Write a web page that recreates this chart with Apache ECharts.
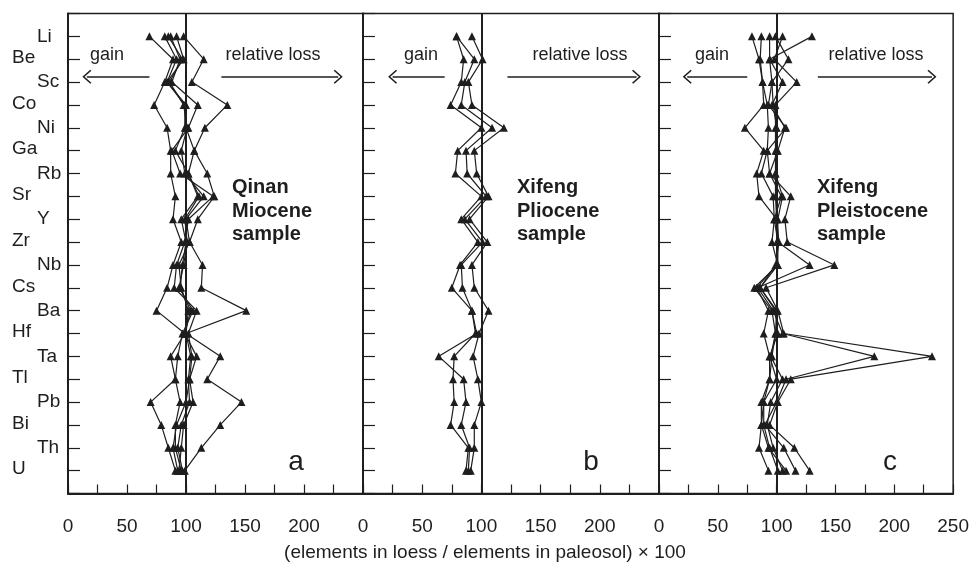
<!DOCTYPE html>
<html>
<head>
<meta charset="utf-8">
<script src="https://cdn.jsdelivr.net/npm/echarts@6/dist/echarts.min.js"></script>
<style>
html,body{margin:0;padding:0;background:#fff;}
#chart{width:972px;height:571px;}
</style>
</head>
<body>
<div id="chart"></div>
<script>
// Element categories (top to bottom)
const elements = ['Li','Be','Sc','Co','Ni','Ga','Rb','Sr','Y','Zr','Nb','Cs','Ba','Hf','Ta','Tl','Pb','Bi','Th','U'];

// X-axis tick values
const xTicks = [0, 50, 100, 150, 200, 250];

// Panel a: Qinan Miocene sample
const qinan1 = [98, 115, 105, 135, 116, 107, 118, 124, 110, 103, 114, 113, 151, 100, 129, 118, 147, 129, 113, 99];
const qinan2 = [69, 89, 82, 73, 84, 87, 87, 91, 89, 96, 89, 84, 75, 99, 87, 91, 70, 79, 85, 91];
const qinan3 = [82, 92, 84, 99, 99, 91, 102, 111, 99, 101, 98, 94, 106, 97, 93, 91, 95, 91, 91, 96];
const qinan4 = [87, 95, 88, 110, 102, 88, 95, 123, 102, 99, 92, 90, 109, 102, 105, 103, 106, 98, 96, 94];
const qinan5 = [92, 98, 84, 100, 100, 107, 102, 110, 96, 100, 97, 95, 104, 99, 109, 103, 100, 92, 89, 93];
const qinan6 = [85, 97, 86, 98, 101, 96, 99, 115, 100, 103, 94, 96, 102, 100, 104, 102, 103, 96, 93, 97];

// Panel b: Xifeng Pliocene sample
const plio1 = [79, 85, 83, 74, 100, 80, 78, 100, 83, 97, 82, 75, 92, 95, 77, 76, 77, 74, 89, 87];
const plio2 = [79, 94, 86, 83, 109, 87, 88, 104, 86, 101, 83, 84, 92, 96, 64, 85, 87, 83, 90, 89];
const plio3 = [92, 101, 89, 92, 119, 94, 96, 106, 90, 105, 92, 94, 106, 98, 93, 97, 100, 94, 94, 91];

// Panel c: Xifeng Pleistocene sample
const pleis1 = [130, 94, 105, 96, 107, 101, 94, 112, 107, 109, 149, 91, 101, 106, 232, 112, 101, 94, 115, 128];
const pleis2 = [105, 98, 117, 99, 99, 99, 99, 105, 101, 101, 128, 84, 97, 105, 183, 108, 100, 90, 106, 116];
const pleis3 = [99, 110, 96, 93, 108, 92, 87, 97, 98, 96, 101, 81, 96, 99, 96, 94, 89, 87, 93, 108];
const pleis4 = [79, 85, 88, 89, 73, 89, 83, 85, 100, 100, 100, 83, 93, 89, 94, 94, 87, 87, 85, 93];
const pleis5 = [87, 86, 88, 92, 93, 92, 94, 104, 98, 101, 101, 86, 99, 101, 94, 100, 89, 89, 94, 101];
const pleis6 = [94, 94, 96, 97, 100, 100, 99, 99, 100, 102, 99, 86, 100, 99, 95, 105, 95, 92, 97, 105];

// Annotation arrows (x ranges in data units, y in category index units)
const gainArrows = [[16, 69], [25, 69], [24, 75]];
const lossArrows = [[130, 229], [122, 231], [135, 232]];
const arrowRow = 1.77;

const panels = [qinan1, qinan2, qinan3, qinan4, qinan5, qinan6];
const panelsB = [plio1, plio2, plio3];
const panelsC = [pleis1, pleis2, pleis3, pleis4, pleis5, pleis6];
const allPanels = [panels, panelsB, panelsC];

const FONT = 'Liberation Sans, Arial, Helvetica, sans-serif';
const INK = '#1e1e1e';
const chevron = 'path://M0,0 L10,10 L8.6,11.4 L0,2.8 L-8.6,11.4 L-10,10 Z';

const grids = [
  {left: 68, top: 13.5, width: 295, height: 480},
  {left: 363, top: 13.5, width: 296, height: 480},
  {left: 659, top: 13.5, width: 296, height: 480}
];

const xAxes = grids.map((g, gi) => ({
  type: 'value', gridIndex: gi, min: 0, max: 250, interval: 25, position: 'bottom',
  axisLine: {show: true, onZero: false, lineStyle: {color: INK, width: 2}},
  axisTick: {show: true, inside: true, length: 9, lineStyle: {color: INK, width: 1.2}},
  splitLine: {show: false},
  axisLabel: {
    show: true, margin: 24, color: INK, fontSize: 19, fontFamily: FONT,
    showMaxLabel: gi === 2, showMinLabel: true,
    formatter: v => (xTicks.indexOf(v) >= 0 && (gi === 2 || v < 250)) ? String(v) : ''
  }
}));

const yAxes = grids.map((g, gi) => ({
  type: 'value', gridIndex: gi, inverse: true, min: -1, max: 20, interval: 1, position: 'left',
  axisLine: {show: true, onZero: false, lineStyle: {color: INK, width: 2}},
  axisTick: {show: true, inside: true, length: 12, lineStyle: {color: INK, width: 1.2}},
  splitLine: {show: false},
  axisLabel: {
    show: gi === 0, align: 'left', margin: 56, color: INK, fontFamily: FONT, fontSize: 19,
    formatter: v => {
      const i = Math.round(v);
      if (Math.abs(v - i) > 1e-6 || i < 0 || i >= elements.length) return '';
      return i % 2 === 0 ? '{o|' + elements[i] + '}' : '{e|' + elements[i] + '}';
    },
    rich: {
      o: {fontSize: 19, fontFamily: FONT, color: INK, padding: [0, 0, 0, 25]},
      e: {fontSize: 19, fontFamily: FONT, color: INK, padding: [0, 0, 3, 0]}
    }
  }
}));

const series = [];
allPanels.forEach((lines, gi) => {
  lines.forEach((vals, li) => {
    const s = {
      type: 'line', xAxisIndex: gi, yAxisIndex: gi,
      data: vals.map((v, i) => [v, i]),
      symbol: 'triangle', symbolSize: 8,
      lineStyle: {color: INK, width: 1.2},
      itemStyle: {color: INK},
      animation: false, silent: true, z: 3
    };
    if (li === 0) {
      s.markLine = {
        silent: true, animation: false,
        label: {show: false},
        data: [
          {xAxis: 100, symbol: 'none', lineStyle: {color: INK, width: 2, type: 'solid'}},
          [{coord: [gainArrows[gi][0], arrowRow], symbol: chevron, symbolSize: [14, 9]},
           {coord: [gainArrows[gi][1], arrowRow], symbol: 'none'}],
          [{coord: [lossArrows[gi][0], arrowRow], symbol: 'none'},
           {coord: [lossArrows[gi][1], arrowRow], symbol: chevron, symbolSize: [14, 9]}]
        ],
        lineStyle: {color: INK, width: 1.5, type: 'solid'},
        symbol: 'none'
      };
    }
    series.push(s);
  });
});

const texts = [];
const gainX = [107, 421, 712];
const lossX = [273, 580, 876];
const titleX = [232, 517, 817];
const panelTitles = ['Qinan\nMiocene\nsample', 'Xifeng\nPliocene\nsample', 'Xifeng\nPleistocene\nsample'];
const letterX = [296, 591, 890];
const letters = ['a', 'b', 'c'];
for (let i = 0; i < 3; i++) {
  texts.push({type: 'text', x: gainX[i], y: 55, style: {text: 'gain', font: '18px ' + FONT, fill: INK, textAlign: 'center', textVerticalAlign: 'middle'}});
  texts.push({type: 'text', x: lossX[i], y: 55, style: {text: 'relative loss', font: '18px ' + FONT, fill: INK, textAlign: 'center', textVerticalAlign: 'middle'}});
  texts.push({type: 'text', x: titleX[i], y: 176, style: {text: panelTitles[i], font: 'bold 20px ' + FONT, fill: INK, textAlign: 'left', textVerticalAlign: 'top', lineHeight: 23.5}});
  texts.push({type: 'text', x: letterX[i], y: 462, style: {text: letters[i], font: '28px ' + FONT, fill: INK, textAlign: 'center', textVerticalAlign: 'middle'}});
}
texts.push({type: 'text', x: 485, y: 553, style: {text: '(elements in loess / elements in paleosol) \u00d7 100', font: '19px ' + FONT, fill: INK, textAlign: 'center', textVerticalAlign: 'middle'}});

const chart = echarts.init(document.getElementById('chart'), null, {renderer: 'canvas'});
chart.setOption({
  animation: false,
  backgroundColor: '#fff',
  grid: grids.map(g => Object.assign({show: true, borderColor: INK, borderWidth: 1.5, backgroundColor: 'transparent'}, g)),
  xAxis: xAxes,
  yAxis: yAxes,
  series: series,
  graphic: texts
});
</script>
</body>
</html>
